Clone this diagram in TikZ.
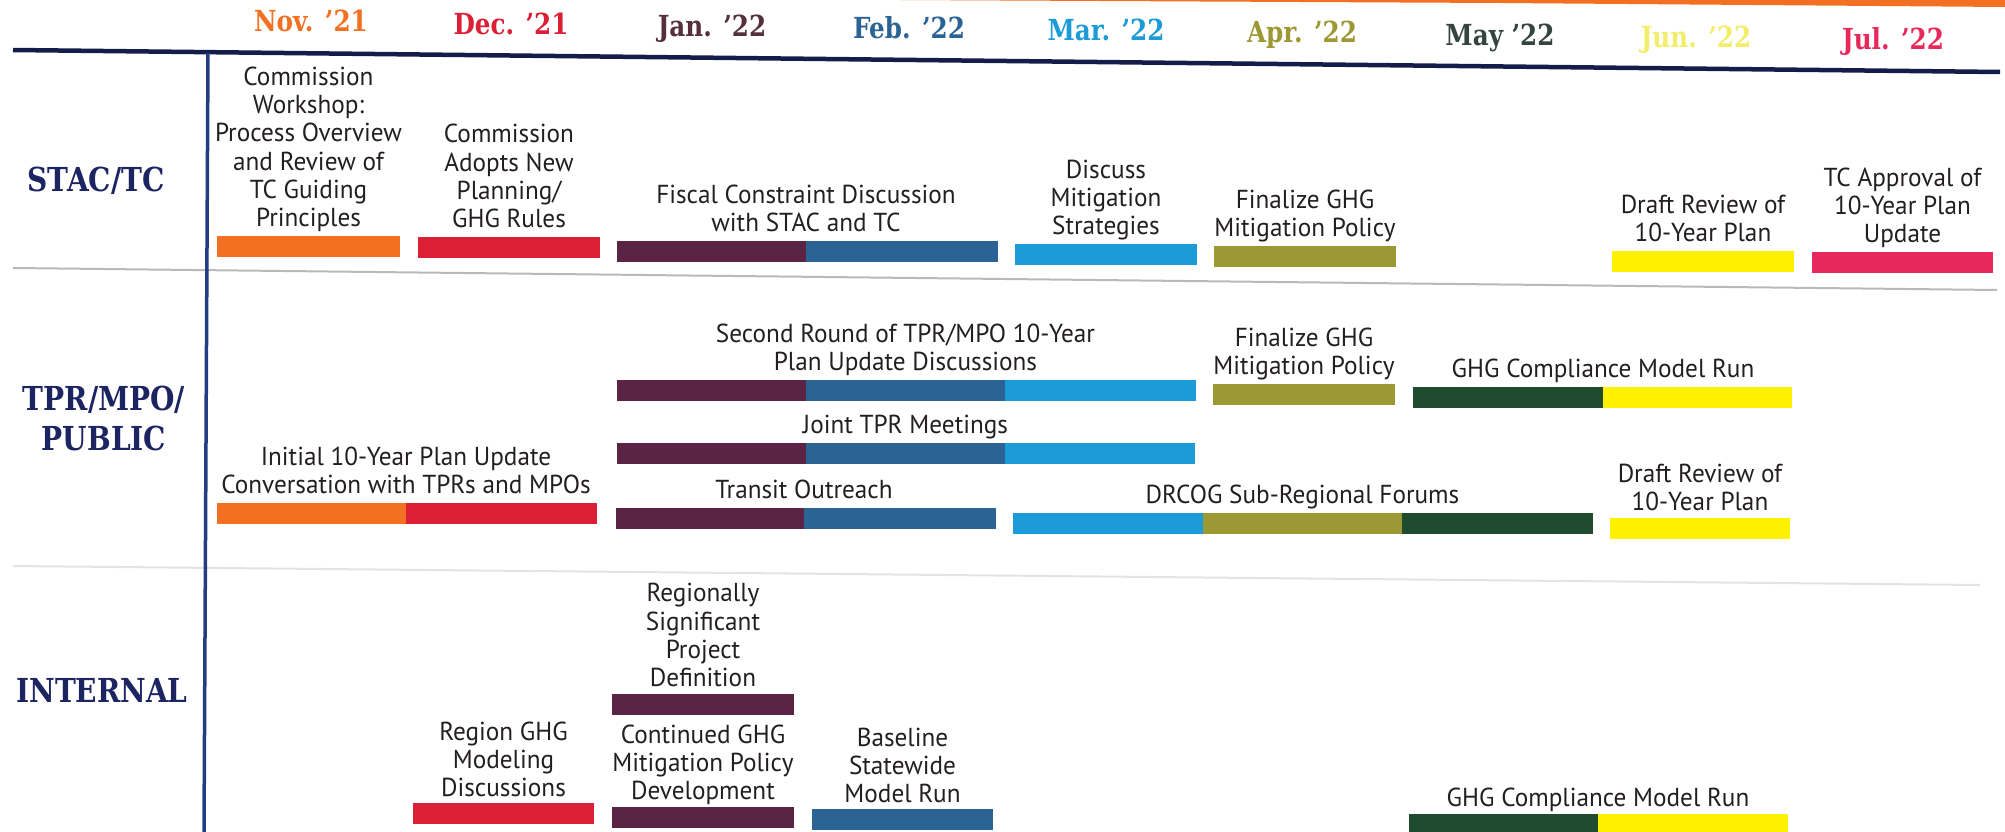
\documentclass[tikz,border=0pt]{standalone}
\usepackage{fontspec}
\setmainfont[FakeStretch=0.97]{PT Sans}
\newfontfamily\slabfont[FakeStretch=0.85]{DejaVu Serif}
\usepackage{xcolor}
\usepackage{tikz}
\usetikzlibrary{positioning}

\definecolor{cNov}{HTML}{F36F21}
\definecolor{cDec}{HTML}{DB1F35}
\definecolor{cJan}{HTML}{5B2444}
\definecolor{cFeb}{HTML}{2B6494}
\definecolor{cMar}{HTML}{1B9BD7}
\definecolor{cApr}{HTML}{9C9833}
\definecolor{cMay}{HTML}{1F4B2E}
\definecolor{cJun}{HTML}{FFF100}
\definecolor{cJul}{HTML}{E7285A}
\definecolor{mJan}{HTML}{55303C}
\definecolor{mMay}{HTML}{34443E}
\definecolor{mJun}{HTML}{F2EE6A}
\definecolor{navy}{HTML}{1D2462}
\definecolor{rule}{HTML}{141C4A}
\definecolor{vrule}{HTML}{233D82}
\definecolor{ink}{HTML}{231F20}

\begin{document}
\begin{tikzpicture}[x=1pt, y=-1pt,
  month/.style={font=\slabfont\bfseries\fontsize{29}{30}\selectfont, inner sep=0pt},
  row/.style={font=\slabfont\bfseries\fontsize{33}{40}\selectfont, text=navy, align=center, inner sep=0pt},
  seg/.style={fill=#1, minimum height=21pt, inner sep=0pt, outer sep=0pt, anchor=north west},
  task/.style={font=\fontsize{26}{28.3}\selectfont, text=ink, align=center, inner sep=0pt, text depth=0pt},
  sep/.style={line width=2pt, gray!55}]
\useasboundingbox (0,0) rectangle (2005,832);

% page edge and rules
\fill[cNov] (900,0) -- (2005,0) -- (2005,7) -- (1500,3) -- cycle;
\draw[rule, line width=4.5pt] (13,50) -- (2000,72);
\draw[sep] (13,268) -- (1997,290);
\draw[sep, gray!22] (13,566) -- (1980,585);
\draw[vrule, line width=3.5pt] (208,53) -- (204,832);

% months
\foreach \mon/\mx/\mc [count=\i from 0] in {Nov. ’21/311/cNov, Dec. ’21/511/cDec,
    Jan. ’22/712/mJan, Feb. ’22/909/cFeb, Mar. ’22/1106/cMar, Apr. ’22/1302/cApr,
    May ’22/1500/mMay, Jun. ’22/1696/mJun, Jul. ’22/1893/cJul}
  \node[month, text=\mc, anchor=base] (m\i) at (\mx, 32+2.2*\i) {\mon};

% row labels
\node[row] (stac) at (96,181) {STAC/TC};
\node[row] (tpr) at (104,418) {TPR/MPO/\\PUBLIC};
\node[row] (internal) at (102,690) {INTERNAL};

% STAC/TC
\node[seg=cNov, minimum width=183pt] (s1) at (217,236) {};
\node[task, above=9pt of s1] (s1t) {Commission\\Workshop:\\Process Overview\\and Review of\\TC Guiding\\Principles};
\node[seg=cDec, minimum width=182pt] (s2) at (418,237) {};
\node[task, above=9pt of s2] (s2t) {Commission\\Adopts New\\Planning/\\GHG Rules};
\node[seg=cJan, minimum width=189pt] (s3a) at (617,241) {};
\node[seg=cFeb, minimum width=192pt, right=0pt of s3a] (s3b) {};
\node[task, above=9pt of s3a.north east] (s3t) {Fiscal Constraint Discussion\\with STAC and TC};
\node[seg=cMar, minimum width=182pt] (s4) at (1015,244) {};
\node[task, above=9pt of s4] (s4t) {Discuss\\Mitigation\\Strategies};
\node[seg=cApr, minimum width=182pt] (s5) at (1214,246) {};
\node[task, above=9pt of s5] (s5t) {Finalize GHG\\Mitigation Policy};
\node[seg=cJun, minimum width=182pt] (s6) at (1612,251) {};
\node[task, above=9pt of s6] (s6t) {Draft Review of\\10-Year Plan};
\node[seg=cJul, minimum width=181pt] (s7) at (1812,252) {};
\node[task, above=9pt of s7] (s7t) {TC Approval of\\10-Year Plan\\Update};

% TPR/MPO/PUBLIC
\node[seg=cJan, minimum width=189pt] (p1a) at (617,380) {};
\node[seg=cFeb, minimum width=199pt, right=0pt of p1a] (p1b) {};
\node[seg=cMar, minimum width=191pt, right=0pt of p1b] (p1c) {};
\node[task, above=9pt of p1b] (p1t) {Second Round of TPR/MPO 10-Year\\Plan Update Discussions};
\node[seg=cApr, minimum width=182pt] (p2) at (1213,384) {};
\node[task, above=9pt of p2] (p2t) {Finalize GHG\\Mitigation Policy};
\node[seg=cMay, minimum width=190pt] (p3a) at (1413,387) {};
\node[seg=cJun, minimum width=189pt, right=0pt of p3a] (p3b) {};
\node[task, above=9pt of p3a.north east] (p3t) {GHG Compliance Model Run};
\node[seg=cJan, minimum width=189pt] (p4a) at (617,443) {};
\node[seg=cFeb, minimum width=199pt, right=0pt of p4a] (p4b) {};
\node[seg=cMar, minimum width=190pt, right=0pt of p4b] (p4c) {};
\node[task, above=9pt of p4b] (p4t) {Joint TPR Meetings};
\node[seg=cNov, minimum width=189pt] (p5a) at (217,503) {};
\node[seg=cDec, minimum width=191pt, right=0pt of p5a] (p5b) {};
\node[task, above=9pt of p5a.north east] (p5t) {Initial 10-Year Plan Update\\Conversation with TPRs and MPOs};
\node[seg=cJan, minimum width=188pt] (p6a) at (616,508) {};
\node[seg=cFeb, minimum width=192pt, right=0pt of p6a] (p6b) {};
\node[task, above=9pt of p6a.north east] (p6t) {Transit Outreach};
\node[seg=cMar, minimum width=190pt] (p7a) at (1013,513) {};
\node[seg=cApr, minimum width=199pt, right=0pt of p7a] (p7b) {};
\node[seg=cMay, minimum width=191pt, right=0pt of p7b] (p7c) {};
\node[task, above=9pt of p7b] (p7t) {DRCOG Sub-Regional Forums};
\node[seg=cJun, minimum width=180pt] (p8) at (1610,518) {};
\node[task, above=7pt of p8] (p8t) {Draft Review of\\10-Year Plan};

% INTERNAL
\node[seg=cJan, minimum width=182pt] (i1) at (612,694) {};
\node[task, above=7pt of i1] (i1t) {Regionally\\Significant\\Project\\Definition};
\node[seg=cDec, minimum width=181pt] (i2) at (413,803) {};
\node[task, above=6pt of i2] (i2t) {Region GHG\\Modeling\\Discussions};
\node[seg=cJan, minimum width=182pt] (i3) at (612,807) {};
\node[task, above=7pt of i3] (i3t) {Continued GHG\\Mitigation Policy\\Development};
\node[seg=cFeb, minimum width=181pt] (i4) at (812,809) {};
\node[task, above=6pt of i4] (i4t) {Baseline\\Statewide\\Model Run};
\node[seg=cMay, minimum width=189pt] (i5a) at (1409,814) {};
\node[seg=cJun, minimum width=190pt, right=0pt of i5a] (i5b) {};
\node[task, above=7pt of i5a.north east] (i5t) {GHG Compliance Model Run};
\end{tikzpicture}
\end{document}
